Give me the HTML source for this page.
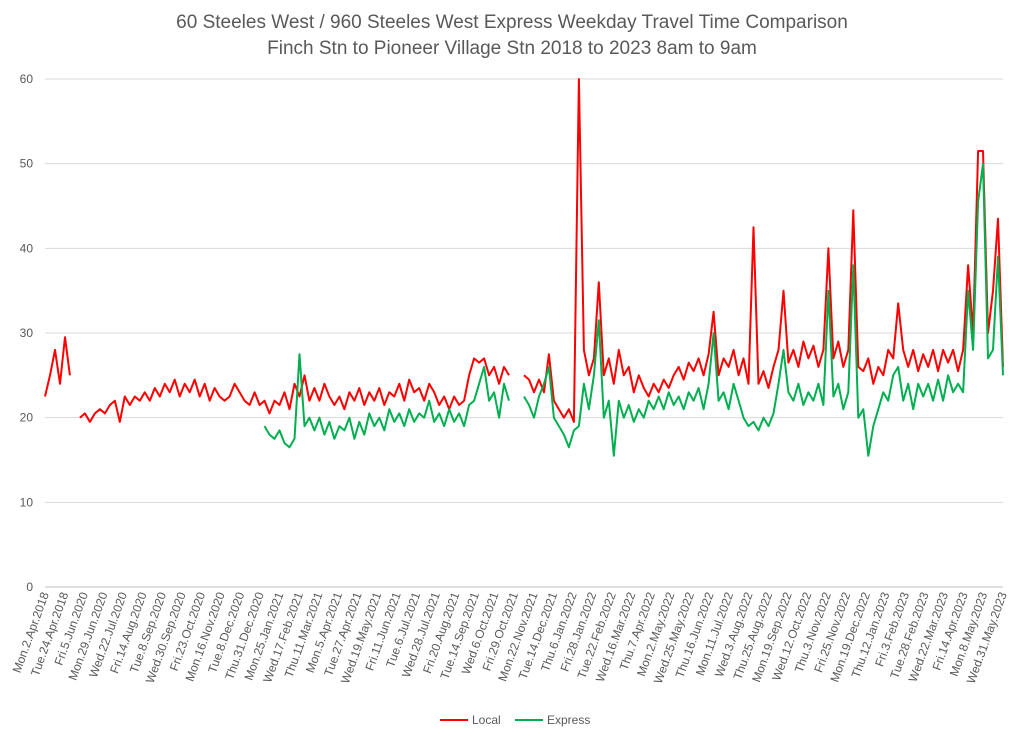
<!DOCTYPE html>
<html><head><meta charset="utf-8"><style>
body{margin:0;background:#fff;}
svg{display:block;font-family:"Liberation Sans",sans-serif;}
</style></head><body>
<svg id="chart" width="1024" height="739"></svg>
<script>
const yTicks=[0,10,20,30,40,50,60];
const xLabels=["Mon.2.Apr.2018","Tue.24.Apr.2018","Fri.5.Jun.2020","Mon.29.Jun.2020","Wed.22.Jul.2020","Fri.14.Aug.2020","Tue.8.Sep.2020","Wed.30.Sep.2020","Fri.23.Oct.2020","Mon.16.Nov.2020","Tue.8.Dec.2020","Thu.31.Dec.2020","Mon.25.Jan.2021","Wed.17.Feb.2021","Thu.11.Mar.2021","Mon.5.Apr.2021","Tue.27.Apr.2021","Wed.19.May.2021","Fri.11.Jun.2021","Tue.6.Jul.2021","Wed.28.Jul.2021","Fri.20.Aug.2021","Tue.14.Sep.2021","Wed.6.Oct.2021","Fri.29.Oct.2021","Mon.22.Nov.2021","Tue.14.Dec.2021","Thu.6.Jan.2022","Fri.28.Jan.2022","Tue.22.Feb.2022","Wed.16.Mar.2022","Thu.7.Apr.2022","Mon.2.May.2022","Wed.25.May.2022","Thu.16.Jun.2022","Mon.11.Jul.2022","Wed.3.Aug.2022","Thu.25.Aug.2022","Mon.19.Sep.2022","Wed.12.Oct.2022","Thu.3.Nov.2022","Fri.25.Nov.2022","Mon.19.Dec.2022","Thu.12.Jan.2023","Fri.3.Feb.2023","Tue.28.Feb.2023","Wed.22.Mar.2023","Fri.14.Apr.2023","Mon.8.May.2023","Wed.31.May.2023"];
const localVals=[22.5,25,28,24,29.5,25,null,20,20.5,19.5,20.5,21,20.5,21.5,22,19.5,22.5,21.5,22.5,22,23,22,23.5,22.5,24,23,24.5,22.5,24,23,24.5,22.5,24,22,23.5,22.5,22,22.5,24,23,22,21.5,23,21.5,22,20.5,22,21.5,23,21,24,22.5,25,22,23.5,22,24,22.5,21.5,22.5,21,23,22,23.5,21.5,23,22,23.5,21.5,23,22.5,24,22,24.5,23,23.5,22,24,23,21.5,22.5,21,22.5,21.5,22,25,27,26.5,27,25,26,24,26,25,null,null,25,24.5,23,24.5,23,27.5,22,21,20,21,19.5,60,28,25,27,36,25,27,24,28,25,26,23,25,23.5,22.5,24,23,24.5,23.5,25,26,24.5,26.5,25.5,27,25,27.5,32.5,25,27,26,28,25,27,24,42.5,24,25.5,23.5,26,28,35,26.5,28,26,29,27,28.5,26,28,40,27,29,26,28,44.5,26,25.5,27,24,26,25,28,27,33.5,28,26,28,25.5,27.5,26,28,25.5,28,26.5,28,25.5,28,38,30,51.5,51.5,30,35,43.5,26];
const expressVals=[null,null,null,null,null,null,null,null,null,null,null,null,null,null,null,null,null,null,null,null,null,null,null,null,null,null,null,null,null,null,null,null,null,null,null,null,null,null,null,null,null,null,null,null,19,18,17.5,18.5,17,16.5,17.5,27.5,19,20,18.5,20,18,19.5,17.5,19,18.5,20,17.5,19.5,18,20.5,19,20,18.5,21,19.5,20.5,19,21,19.5,20.5,20,22,19.5,20.5,19,21,19.5,20.5,19,21.5,22,24,26,22,23,20,24,22,null,null,22.5,21.5,20,22.5,24,26,20,19,18,16.5,18.5,19,24,21,25,31.5,20,22,15.5,22,20,21.5,19.5,21,20,22,21,22.5,21,23,21.5,22.5,21,23,22,23.5,21,24,30,22,23,21,24,22,20,19,19.5,18.5,20,19,20.5,24,28,23,22,24,21.5,23,22,24,21.5,35,22.5,24,21,23,38,20,21,15.5,19,21,23,22,25,26,22,24,21,24,22.5,24,22,24.5,22,25,23,24,23,35,28,45.5,50,27,28,39,25];

const NS="http://www.w3.org/2000/svg";
const svg=document.getElementById('chart');
const L=45,R=1003,Y0=587,Y60=79;
const yS=v=>Y0-(v/60)*(Y0-Y60);
const xS=i=>L+i*(R-L)/(localVals.length-1);
const xL=i=>L+i*(R-L)/(xLabels.length-1);
function mk(tag,attrs){const e=document.createElementNS(NS,tag);for(const k in attrs)e.setAttribute(k,attrs[k]);svg.appendChild(e);return e;}

let t=mk('text',{x:512,y:28,'text-anchor':'middle','font-size':19,fill:'#595959'});t.textContent="60 Steeles West / 960 Steeles West Express Weekday Travel Time Comparison";


t=mk('text',{x:512,y:54,'text-anchor':'middle','font-size':19,fill:'#595959'});t.textContent="Finch Stn to Pioneer Village Stn 2018 to 2023 8am to 9am";



yTicks.forEach(v=>{
  const g=mk('line',{x1:L,x2:R,y1:yS(v),y2:yS(v),stroke:v===0?'#bfbfbf':'#d9d9d9','stroke-width':1});
  
  
  const tx=mk('text',{x:33,y:yS(v)+4,'text-anchor':'end','font-size':12,fill:'#595959'});tx.textContent=v;
  
  
});
xLabels.forEach((s,i)=>{
  const x=xL(i);
  const tx=mk('text',{x:x+4,y:594,'text-anchor':'end','font-size':12,fill:'#595959',transform:`rotate(-70 ${x+4} 594)`});tx.textContent=s;
  
  
});
function series(vals,color,name){
  let d='',pen=false;
  vals.forEach((v,i)=>{if(v==null){pen=false;return;}d+=(pen?'L':'M')+xS(i).toFixed(1)+' '+yS(v).toFixed(1)+' ';pen=true;});
  const p=mk('path',{d:d,fill:'none',stroke:color,'stroke-width':2,'stroke-linejoin':'round'});
  
  
}
series(localVals,'#ff0000','local-series');
series(expressVals,'#00b050','express-series');
// legend
let ll=mk('line',{x1:440,x2:468,y1:720,y2:720,stroke:'#ff0000','stroke-width':2});


t=mk('text',{x:472,y:724,'font-size':12,fill:'#595959'});t.textContent="Local";


ll=mk('line',{x1:515,x2:543,y1:720,y2:720,stroke:'#00b050','stroke-width':2});


t=mk('text',{x:547,y:724,'font-size':12,fill:'#595959'});t.textContent="Express";


</script>
</body></html>
